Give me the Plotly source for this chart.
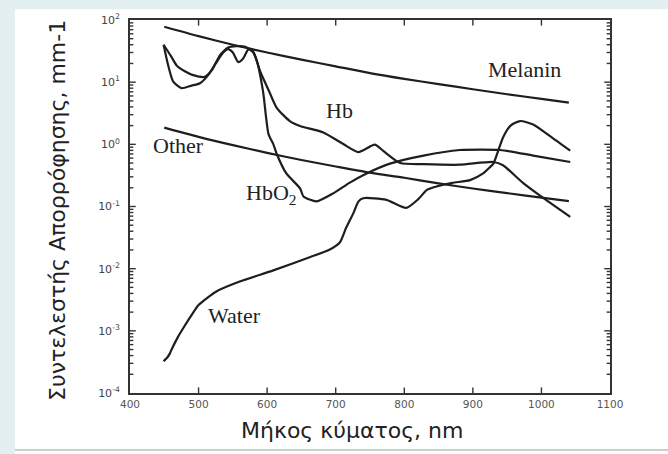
import plotly.graph_objects as go

# Absorption spectra of tissue chromophores (wavelength in nm, coefficient in mm^-1)
melanin_nm = [450, 500, 550, 600, 650, 700, 750, 800, 850, 900, 950, 1000, 1040]
melanin_mu = [78, 55, 40, 30, 23, 18, 14, 11.3, 9.3, 7.7, 6.4, 5.4, 4.7]

other_nm = [450, 500, 550, 600, 650, 700, 750, 800, 850, 900, 950, 1000, 1040]
other_mu = [1.86, 1.32, 0.97, 0.73, 0.56, 0.44, 0.35, 0.29, 0.235, 0.195, 0.164, 0.139, 0.122]

hb_nm = [449, 460, 468, 480, 492, 509, 520, 531, 543, 555, 568, 580, 590, 602, 614,
         633, 648, 682, 711, 733, 757, 769, 794, 828, 881, 930, 944, 974, 1003, 1042]
hb_mu = [40, 26, 18.6, 15, 13, 12.2, 16, 27, 36, 38, 37, 30, 14.7, 7.5, 3.86,
         2.37, 1.97, 1.55, 1.01, 0.75, 0.99, 0.79, 0.50, 0.48, 0.47, 0.52, 0.46, 0.235, 0.136, 0.068]

hbo2_nm = [449, 455, 463, 475, 490, 502, 514, 525, 536, 543, 550, 558, 565, 572, 577,
           585, 594, 602, 609, 614, 628, 648, 653, 672, 697, 720, 745, 779, 828, 881,
           940, 988, 1042]
hbo2_mu = [40, 20, 10.2, 8.0, 8.8, 9.6, 13, 20, 30, 34, 30, 21, 24, 33, 34,
           22, 7.1, 1.46, 1.01, 0.70, 0.34, 0.196, 0.145, 0.121, 0.164, 0.24, 0.34, 0.49, 0.66, 0.81,
           0.81, 0.66, 0.52]

water_nm = [449, 455, 458, 461, 470, 478, 490, 500, 526, 560, 609, 662, 690, 706, 715,
            726, 733, 740, 774, 803, 820, 833, 847, 870, 896, 915, 925, 930, 944, 955,
            969, 988, 1012, 1042]
water_mu = [3.25e-4, 3.8e-4, 4.3e-4, 5.1e-4, 8e-4, 1.12e-3, 1.8e-3, 2.6e-3, 4.3e-3, 6.2e-3,
            9.4e-3, 0.0153, 0.02, 0.0264, 0.045, 0.079, 0.12, 0.136, 0.128, 0.095,
            0.13, 0.185, 0.21, 0.24, 0.266, 0.34, 0.43, 0.49, 1.29, 2.0,
            2.37, 2.09, 1.37, 0.79]

x_ticks = [400, 500, 600, 700, 800, 900, 1000, 1100]
y_ticks = [1e-4, 1e-3, 1e-2, 1e-1, 1e0, 1e1, 1e2]
y_ticktext = ["10<sup>-4</sup>", "10<sup>-3</sup>", "10<sup>-2</sup>", "10<sup>-1</sup>",
              "10<sup>0</sup>", "10<sup>1</sup>", "10<sup>2</sup>"]
# 2..9 subdivisions of every decade
y_minor = [m * d for d in y_ticks[:-1] for m in range(2, 10)]

curve_color = "#1e1e1e"
serif = "Liberation Serif, Times New Roman, serif"
sans = "DejaVu Sans, Noto Sans, sans-serif"

fig = go.Figure()
for xs, ys, smooth in [(melanin_nm, melanin_mu, 0.8), (other_nm, other_mu, 0.8),
                       (hb_nm, hb_mu, 0.6), (hbo2_nm, hbo2_mu, 0.6), (water_nm, water_mu, 0.6)]:
    fig.add_trace(go.Scatter(x=xs, y=ys, mode="lines",
                             line=dict(color=curve_color, width=2.2, shape="spline", smoothing=smooth),
                             showlegend=False, hoverinfo="skip"))

# curve names, written next to each spectrum
labels = [
    ("Melanin", 975, 1.2),
    ("Hb", 706, 0.54),
    ("Other", 471, -0.02),
    ("HbO<sub>2</sub>", 606, -0.8),
    ("Water", 553, -2.76),
]
for text, x, y in labels:
    fig.add_annotation(x=x, y=y, xref="x", yref="y", text=text, showarrow=False,
                       font=dict(family=serif, size=22, color="#222"),
                       xanchor="center", yanchor="middle")

# axis titles
fig.add_annotation(x=-0.15, y=0.488, xref="paper", yref="paper",
                   text="Συντελεστής Απορρόφησης, mm-1", textangle=-90, showarrow=False,
                   font=dict(family=sans, size=22, color="#222"),
                   xanchor="center", yanchor="middle")
fig.add_annotation(x=0.4625, y=-0.1, xref="paper", yref="paper",
                   text="Μήκος κύματος, nm", showarrow=False,
                   font=dict(family=sans, size=22, color="#222"),
                   xanchor="center", yanchor="middle")

# inward tick marks on all four sides of the frame, placed on the axis scales
tick_style = dict(color="#333", width=1.4)
x_len, y_major_len, y_minor_len = 0.015, 0.012, 0.007
for v in x_ticks[1:-1]:
    for y0, y1 in [(0, x_len), (1, 1 - x_len)]:
        fig.add_shape(type="line", xref="x", yref="paper", x0=v, x1=v, y0=y0, y1=y1,
                      line=tick_style, layer="above")
for vals, length in [(y_ticks[1:-1], y_major_len), (y_minor, y_minor_len)]:
    for v in vals:
        for x0, x1 in [(0, length), (1, 1 - length)]:
            fig.add_shape(type="line", xref="paper", yref="y", x0=x0, x1=x1, y0=v, y1=v,
                          line=tick_style, layer="above")

# pale blue margin on the left and top edges of the page, grey rule at the bottom
backdrop = "#e4eff1"
fig.add_shape(type="rect", xref="paper", yref="paper", layer="below",
              x0=-0.3, x1=-0.2396, y0=-0.3, y1=1.1,
              fillcolor=backdrop, line=dict(width=0))
fig.add_shape(type="rect", xref="paper", yref="paper", layer="below",
              x0=-0.3, x1=1.2, y0=1.029, y1=1.1,
              fillcolor=backdrop, line=dict(width=0))
fig.add_shape(type="line", xref="paper", yref="paper",
              x0=-0.2396, x1=1.2, y0=-0.153, y1=-0.153,
              line=dict(color="#bdbdbd", width=1.5))

axis_common = dict(showline=True, linecolor="#333", linewidth=2, mirror=True,
                   showgrid=False, zeroline=False, ticks="")

fig.update_layout(
    width=668, height=454,
    margin=dict(l=130, r=58, t=14, b=61),
    paper_bgcolor="white",
    plot_bgcolor="white",
    xaxis=dict(range=[400, 1100], tickmode="array", tickvals=x_ticks,
               ticktext=[str(v) for v in x_ticks],
               tickfont=dict(family=sans, size=10.5, color="#555"), **axis_common),
    yaxis=dict(type="log", range=[-4, 2], tickmode="array", tickvals=y_ticks, ticktext=y_ticktext,
               ticklabelstandoff=6,
               tickfont=dict(family=sans, size=11, color="#444"), **axis_common),
)

fig.write_html("out.html")
